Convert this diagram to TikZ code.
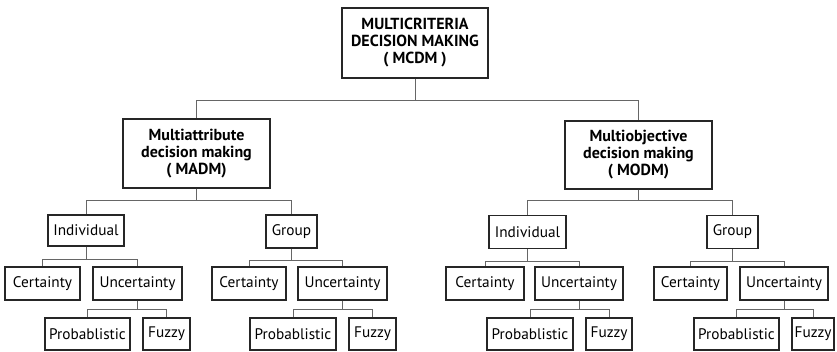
\documentclass[tikz,border=0pt]{standalone}
\usepackage{fontspec}
\setmainfont{PT Sans}
\begin{document}
\begin{tikzpicture}[x=1pt,y=-1pt,
  box/.style={draw=black!85, line width=1.2pt, inner sep=0pt, minimum height=32pt,
    font=\fontsize{15.3}{17}\selectfont},
  headbox/.style={box, align=center, font=\bfseries\fontsize{16}{17}\selectfont},
  link/.style={draw=black!60, line width=0.7pt}]
\useasboundingbox (0,0) rectangle (837,352);

% root
\node[headbox, minimum width=146pt, minimum height=70pt] (root) at (415,43)
  {MULTICRITERIA\\DECISION MAKING\\( MCDM )};

% second level
\node[headbox, minimum width=147pt, minimum height=69pt] (madm) at (196.5,153.5)
  {Multiattribute\\decision making\\( MADM)};
\node[headbox, minimum width=147pt, minimum height=68pt] (modm) at (638.5,155)
  {Multiobjective\\decision making\\( MODM)};

% third level
\node[box, minimum width=76pt, minimum height=31pt] (li) at (86,230.5) {Individual};
\node[box, minimum width=51pt, minimum height=33pt] (lg) at (291.5,231.5) {Group};
\node[box, minimum width=77pt, minimum height=33pt] (ri) at (527.5,232) {Individual};
\node[box, minimum width=51pt, minimum height=33pt] (rg) at (732.5,232) {Group};

% fourth level
\node[box, minimum width=75pt, minimum height=33pt] (lic) at (42.5,283.5) {Certainty};
\node[box, minimum width=89pt, minimum height=33pt] (liu) at (137.5,283.5) {Uncertainty};
\node[box, minimum width=74pt, minimum height=33pt] (lgc) at (249,283.5) {Certainty};
\node[box, minimum width=89pt, minimum height=33pt] (lgu) at (342.5,283.5) {Uncertainty};
\node[box, minimum width=78pt, minimum height=33pt] (ric) at (485,283.5) {Certainty};
\node[box, minimum width=88pt, minimum height=33pt] (riu) at (579,283.5) {Uncertainty};
\node[box, minimum width=73pt, minimum height=33pt] (rgc) at (690.5,283.5) {Certainty};
\node[box, minimum width=88pt, minimum height=33pt] (rgu) at (784,283.5) {Uncertainty};

% fifth level
\node[box, minimum width=85pt] (lip) at (87.5,334) {Probablistic};
\node[box, minimum width=47pt] (lif) at (166.5,334) {Fuzzy};
\node[box, minimum width=86pt] (lgp) at (293,334) {Probablistic};
\node[box, minimum width=47pt] (lgf) at (372.5,334) {Fuzzy};
\node[box, minimum width=86pt] (rip) at (530,334) {Probablistic};
\node[box, minimum width=46pt] (rif) at (609,334) {Fuzzy};
\node[box, minimum width=85pt] (rgp) at (736.5,334) {Probablistic};
\node[box, minimum width=42pt] (rgf) at (813,334) {Fuzzy};

% connectors
\draw[link] (root.south) -- +(0,22) -| (madm.north);
\draw[link] (root.south) -- +(0,22) -| (modm.north);

\draw[link] (madm.south) -- +(0,12) -| (li.north);
\draw[link] (madm.south) -- +(0,12) -| (lg.north);
\draw[link] (modm.south) -- +(0,11) -| (ri.north);
\draw[link] (modm.south) -- +(0,11) -| (rg.north);

\draw[link] (li.south) -- +(0,13) -| (lic.north);
\draw[link] (li.south) -- +(0,13) -| (liu.north);
\draw[link] (lg.south) -- +(0,12) -| (lgc.north);
\draw[link] (lg.south) -- +(0,12) -| (lgu.north);
\draw[link] (ri.south) -- +(0,12) -| (ric.north);
\draw[link] (ri.south) -- +(0,12) -| (riu.north);
\draw[link] (rg.south) -- +(0,12) -| (rgc.north);
\draw[link] (rg.south) -- +(0,12) -| (rgu.north);

\draw[link] (liu.south) -- +(0,9) -| (lip.north);
\draw[link] (liu.south) -- +(0,9) -| (lif.north);
\draw[link] (lgu.south) -- +(0,9) -| (lgp.north);
\draw[link] (lgu.south) -- +(0,9) -| (lgf.north);
\draw[link] (riu.south) -- +(0,9) -| (rip.north);
\draw[link] (riu.south) -- +(0,9) -| (rif.north);
\draw[link] (rgu.south) -- +(0,9) -| (rgp.north);
\draw[link] (rgu.south) -- +(0,9) -| (rgf.north);
\end{tikzpicture}
\end{document}
